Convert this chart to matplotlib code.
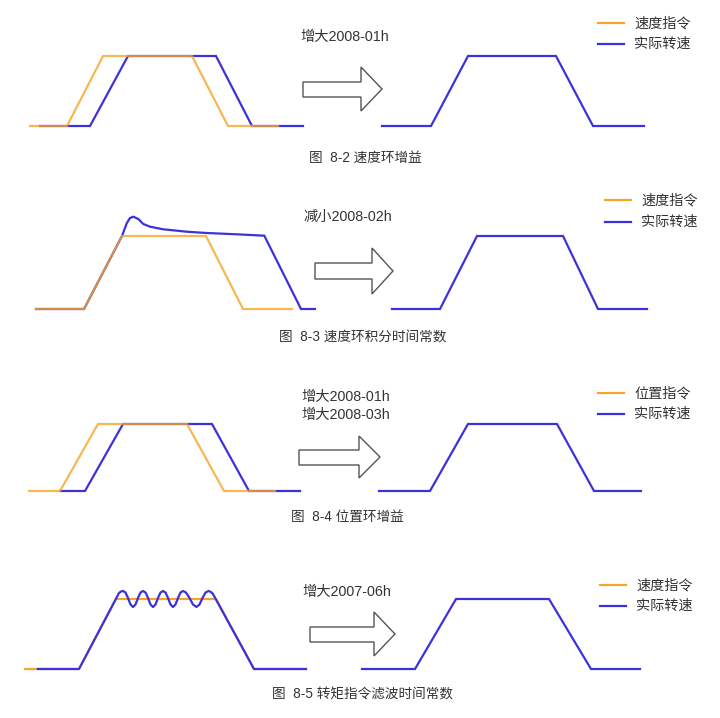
import matplotlib
matplotlib.use('Agg')
import matplotlib.pyplot as plt
from matplotlib.patches import Polygon

plt.rcParams['font.family'] = ['Liberation Sans', 'Noto Sans CJK SC', 'DejaVu Sans']

ORANGE = '#f5a52a'
BLUE = '#3c32dc'
TEXT = '#333333'

# --- figure 8-2: speed loop gain (pixel coords of the original drawing) ---
p1_cmd_x = [30, 67, 103, 192, 228, 278]
p1_cmd_y = [126, 126, 56, 56, 126, 126]
p1_act_x = [40, 90, 128, 216, 252, 303]
p1_act_y = [126, 126, 56, 56, 126, 126]
p1_res_x = [382, 431, 468, 556, 593, 644]
p1_res_y = [126, 126, 56, 56, 126, 126]

# --- figure 8-3: speed loop integral time constant ---
p2_cmd_x = [36, 84, 122, 206, 243, 292]
p2_cmd_y = [309, 309, 236, 236, 309, 309]
p2_act_x = [36, 84, 122, 126.7, 130, 133.3, 138.3, 143.3, 150, 163.3, 186.7, 206.7, 236.7, 264.3, 301, 315]
p2_act_y = [309, 309, 236, 223.3, 218, 216.7, 219, 224, 226.7, 229.3, 231.7, 233, 234.3, 235.7, 309, 309]
p2_res_x = [392, 440, 477, 563, 598, 647]
p2_res_y = [309, 309, 236, 236, 309, 309]

# --- figure 8-4: position loop gain ---
p3_cmd_x = [29, 60, 98, 187, 224, 275]
p3_cmd_y = [491, 491, 424, 424, 491, 491]
p3_act_x = [60, 85, 123, 212, 249, 300]
p3_act_y = [491, 491, 424, 424, 491, 491]
p3_res_x = [379, 430, 468, 557, 594, 641]
p3_res_y = [491, 491, 424, 424, 491, 491]

# --- figure 8-5: torque command filter time constant ---
p4_cmd_x = [25, 79, 116, 216, 254, 306]
p4_cmd_y = [669, 669, 599, 599, 669, 669]
p4_act_x = [38, 79, 119, 121, 123, 125.5, 128, 130.5, 133, 135.5, 138, 140.5, 143, 145.5,
            148, 150.5, 153, 155.5, 158, 160.5, 163, 165.5, 168, 170.5, 173, 175.5, 178,
            180.5, 183, 186, 189.5, 193, 196.5, 199.5, 202.5, 205.5, 208.5, 211, 213, 254, 306]
p4_act_y = [669, 669, 593, 591.5, 591, 592.5, 598, 604.5, 607, 604.5, 598, 592.5, 591, 592.5,
            598, 604.5, 607, 604.5, 598, 592.5, 591, 592.5, 598, 604.5, 607, 604.5, 598,
            592.5, 591, 592.5, 598, 604.5, 607, 604.5, 598, 592.5, 591, 592, 594, 669, 669]
p4_res_x = [362, 415, 456, 549, 591, 640]
p4_res_y = [669, 669, 599, 599, 669, 669]

notes = [['增大2008-01h'], ['减小2008-02h'], ['增大2008-01h', '增大2008-03h'], ['增大2007-06h']]
legends = [['速度指令', '实际转速'], ['速度指令', '实际转速'], ['位置指令', '实际转速'], ['速度指令', '实际转速']]
captions = ['图  8-2 速度环增益', '图  8-3 速度环积分时间常数', '图  8-4 位置环增益', '图  8-5 转矩指令滤波时间常数']

fig = plt.figure(figsize=(7.2, 7.18), dpi=100)
ax = fig.add_axes([0, 0, 1, 1])
ax.set_xlim(0, 720)
ax.set_ylim(718, 0)
ax.axis('off')

lw = 1.6
# panels 1-3: command drawn over actual, semi transparent
for cx, cy, axx, ayy in [(p1_cmd_x, p1_cmd_y, p1_act_x, p1_act_y),
                         (p2_cmd_x, p2_cmd_y, p2_act_x, p2_act_y),
                         (p3_cmd_x, p3_cmd_y, p3_act_x, p3_act_y)]:
    ax.plot(axx, ayy, color=BLUE, lw=lw, solid_joinstyle='miter')
    ax.plot(cx, cy, color=ORANGE, lw=lw, alpha=0.8, solid_joinstyle='miter')
# panel 4: actual drawn on top
ax.plot(p4_cmd_x, p4_cmd_y, color=ORANGE, lw=lw)
ax.plot(p4_act_x, p4_act_y, color=BLUE, lw=lw, solid_joinstyle='round')

for rx, ry in [(p1_res_x, p1_res_y), (p2_res_x, p2_res_y), (p3_res_x, p3_res_y), (p4_res_x, p4_res_y)]:
    ax.plot(rx, ry, color=BLUE, lw=lw, solid_joinstyle='miter')

# hollow arrows: (body left, body top, body bottom, head x, head top, head bottom, tip x)
arrows = [(303, 82, 97, 361, 67, 111, 382),
          (315, 263, 279, 372, 248, 294, 393),
          (299, 450, 465, 359, 436, 478, 380),
          (310, 627, 642, 374, 612, 656, 395)]
for bl, bt, bb, hx, ht, hb, tip in arrows:
    mid = (ht + hb) / 2
    pts = [(bl, bt), (hx, bt), (hx, ht), (tip, mid), (hx, hb), (hx, bb), (bl, bb)]
    ax.add_patch(Polygon(pts, closed=True, facecolor='white', edgecolor='#555555', lw=1.0))

note_pos = [(300, [37]), (303, [217]), (301, [397, 415]), (302, [592])]
for (nx, ys), lines in zip(note_pos, notes):
    for y, s in zip(ys, lines):
        ax.text(nx, y, s, fontsize=10.3, color=TEXT, ha='left', va='center')

leg_pos = [(598, 23, 44), (605, 200, 222), (598, 393, 414), (600, 585, 606)]
for (lx, y1, y2), labels in zip(leg_pos, legends):
    ax.plot([lx, lx + 26], [y1, y1], color=ORANGE, lw=lw)
    ax.plot([lx, lx + 26], [y2, y2], color=BLUE, lw=lw)
    ax.text(lx + 36, y1, labels[0], fontsize=10.2, color=TEXT, va='center')
    ax.text(lx + 36, y2, labels[1], fontsize=10.2, color=TEXT, va='center')

cap_pos = [(365, 158), (363, 337), (347, 517), (363, 694)]
for (cx, cy), s in zip(cap_pos, captions):
    ax.text(cx, cy, s, fontsize=9.8, color=TEXT, ha='center', va='center')

fig.savefig('out.png', dpi=100, facecolor='white')
